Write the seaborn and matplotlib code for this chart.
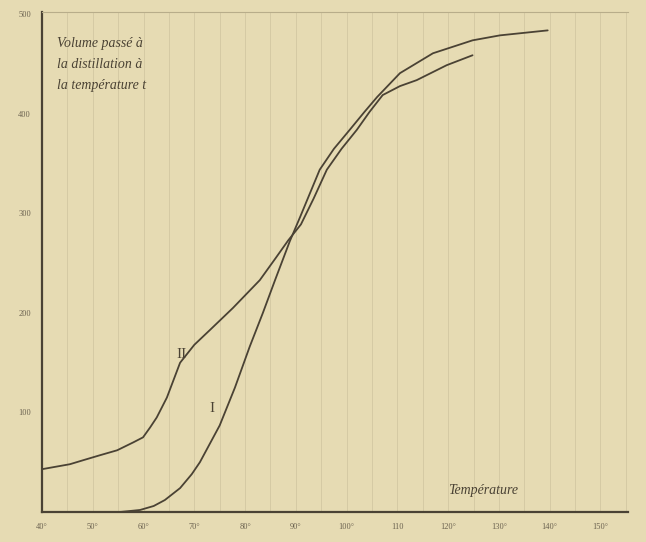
import matplotlib
matplotlib.use("Agg")
import matplotlib.pyplot as plt
import seaborn as sns
import pandas as pd

# Distillation curves (temperature in degrees, volume passed)
temp_I = [55.4, 59.3, 62.0, 64.2, 67.2, 69.5, 71.1, 75.0, 78.0, 80.9, 83.5,
          85.9, 88.8, 90.8, 94.7, 97.5, 100.6, 103.5, 106.0, 110.5, 117.0,
          124.8, 130.2, 139.6]
vol_I = [0, 2, 6, 12, 24, 38, 50, 87, 125, 166, 200,
         233, 272, 296, 344, 365, 384, 402, 417, 441, 461,
         474, 479, 484]

temp_II = [40.0, 45.5, 48.1, 51.4, 54.8, 58.0, 59.9, 61.3, 62.6, 64.6, 67.2,
           70.0, 73.1, 77.6, 82.9, 86.0, 88.5, 91.0, 93.5, 96.1, 99.0, 102.0,
           104.5, 107.1, 110.5, 113.8, 119.7, 124.8]
vol_II = [43, 48, 52, 57, 62, 70, 75, 85, 95, 115, 150,
          168, 183, 205, 233, 255, 273, 289, 315, 344, 365, 384,
          402, 419, 428, 434, 449, 459]

x_ticks = [40, 50, 60, 70, 80, 90, 100, 110, 120, 130, 140, 150]
x_labels = ["40°", "50°", "60°", "70°", "80°", "90°", "100°", "110",
            "120°", "130°", "140°", "150°"]
y_ticks = [100, 200, 300, 400, 500]
y_labels = ["100", "200", "300", "400", "500"]

paper = "#e6dbb3"
ink = "#4a4234"

df = pd.concat([
    pd.DataFrame({"temp": temp_I, "vol": vol_I, "courbe": "I"}),
    pd.DataFrame({"temp": temp_II, "vol": vol_II, "courbe": "II"}),
])

sns.set_style("white", {"axes.facecolor": paper, "figure.facecolor": paper})
plt.rcParams["font.family"] = ["Liberation Serif", "DejaVu Sans"]

fig = plt.figure(figsize=(6.46, 5.42), dpi=100)
ax = fig.add_axes([0.065, 0.0554, 0.907, 0.9225])

sns.lineplot(data=df, x="temp", y="vol", hue="courbe", palette=[ink, ink],
             linewidth=1.3, sort=False, legend=False, ax=ax)

ax.set_xlim(40, 155.4)
ax.set_ylim(0, 502.5)

# faint ruling of the graph paper
for t in range(45, 156, 5):
    ax.axvline(t, color="#b8ad8a", lw=0.5, alpha=0.5, zorder=0)

ax.set_xticks(x_ticks)
ax.set_xticklabels(x_labels, fontsize=6, color="#6b6250")
ax.set_yticks(y_ticks)
ax.set_yticklabels(y_labels, fontsize=6, color="#6b6250")
ax.tick_params(axis="both", length=2, width=0.8, color=ink, pad=6)
ax.set_xlabel("")
ax.set_ylabel("")

for side in ["left", "bottom"]:
    ax.spines[side].set_color(ink)
    ax.spines[side].set_linewidth(1.6)
ax.spines["top"].set_color("#b8ad8a")
ax.spines["top"].set_linewidth(0.8)
ax.spines["right"].set_visible(False)

ax.text(43, 477, "Volume passé à\nla distillation à\nla température t",
        fontsize=10, style="italic", color=ink, va="top", linespacing=1.8)
ax.text(120, 18, "Température", fontsize=10, style="italic", color=ink)
ax.text(66.5, 155, "II", fontsize=11, color=ink)
ax.text(73, 100, "I", fontsize=11, color=ink)

fig.savefig("out.png", dpi=100, facecolor=paper)
